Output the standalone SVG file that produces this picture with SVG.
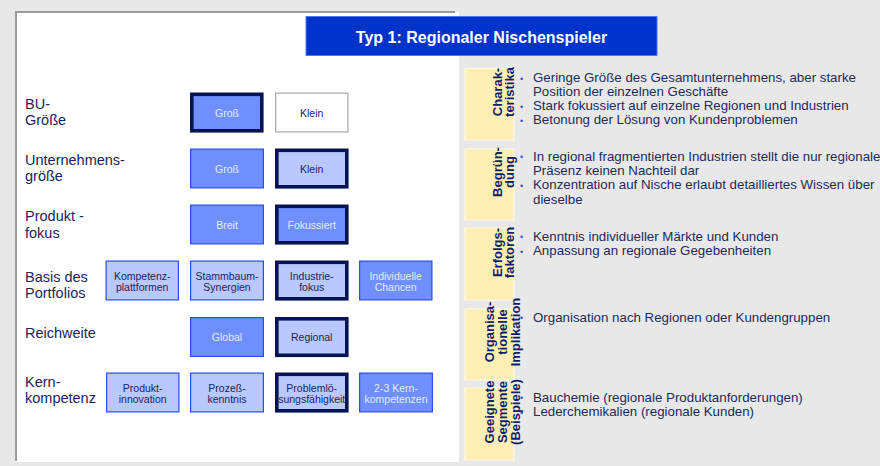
<svg xmlns="http://www.w3.org/2000/svg" width="880" height="466" viewBox="0 0 880 466">
<style>
text{font-family:"Liberation Sans",Arial,sans-serif}
.lbl{font-size:14.5px;fill:#1a2460}
.bt{font-size:10.5px;text-anchor:middle}
.dk{fill:#1a2460}
.lt{fill:#e4eaff}
.m{fill:#6e8ffd;stroke:#2450e8;stroke-width:1.2}
.l{fill:#b9c8fe;stroke:#2450e8;stroke-width:1.2}
.w{fill:#ffffff;stroke:#aaaaaa;stroke-width:1.2}
.tk{stroke:#061452;stroke-width:3.6}
.yb{fill:#fdeeb3;stroke:#fffbe6;stroke-width:1}
.rt{font-size:13px;font-weight:bold;fill:#0f1f66;text-anchor:middle}
.tx{font-size:13.3px;fill:#1c2a5e}
.bu{font-size:9px;fill:#3355cc}
</style>
<rect x="0" y="0" width="880" height="466" fill="#e8e8e8"/>
<g id="panel">
<rect x="15" y="12" width="444" height="450" fill="#ffffff"/>
<line x1="15" y1="12" x2="455" y2="12" stroke="#9a9a9a" stroke-width="2"/>
<line x1="16" y1="12" x2="16" y2="461" stroke="#9a9a9a" stroke-width="2"/>
</g>
<g id="title">
<rect x="306" y="16.5" width="351" height="39" fill="#0033cc" stroke="#4a78f5" stroke-width="1"/>
<text x="481.5" y="43.3" font-size="16" font-weight="bold" fill="#ffffff" text-anchor="middle">Typ 1: Regionaler Nischenspieler</text>
</g>
<g id="labels">
<text class="lbl" x="25" y="108.5">BU-<tspan x="25" y="124.5">Größe</tspan></text>
<text class="lbl" x="25" y="165">Unternehmens-<tspan x="25" y="181">größe</tspan></text>
<text class="lbl" x="25" y="221">Produkt -<tspan x="25" y="237.5">fokus</tspan></text>
<text class="lbl" x="25" y="281.5">Basis des<tspan x="25" y="298">Portfolios</tspan></text>
<text class="lbl" x="25" y="338">Reichweite</text>
<text class="lbl" x="25" y="387">Kern-<tspan x="25" y="403">kompetenz</tspan></text>
</g>
<g id="row1">
<g id="bu-gross"><rect class="m tk" x="191.8" y="94.3" width="70" height="36.5"/><text class="bt lt" x="227" y="116.5">Groß</text></g>
<g id="bu-klein"><rect class="w" x="275.6" y="93.1" width="72.3" height="38.8"/><text class="bt dk" x="311.7" y="116.5">Klein</text></g>
</g>
<g id="row2">
<g id="u-gross"><rect class="m" x="190.6" y="149.1" width="72.8" height="38.8"/><text class="bt lt" x="227" y="172.5">Groß</text></g>
<g id="u-klein"><rect class="l tk" x="276.8" y="150.3" width="70" height="36.5"/><text class="bt dk" x="311.7" y="172.5">Klein</text></g>
</g>
<g id="row3">
<g id="p-breit"><rect class="m" x="190.6" y="205.1" width="72.8" height="38.8"/><text class="bt lt" x="227" y="228.5">Breit</text></g>
<g id="p-fokussiert"><rect class="m tk" x="276.8" y="206.3" width="70" height="36.5"/><text class="bt lt" x="311.7" y="228.5">Fokussiert</text></g>
</g>
<g id="row4">
<g id="b-kompetenz"><rect class="l" x="106.1" y="261.1" width="72.3" height="38.8"/><text class="bt dk" x="142.2" y="280.2">Kompetenz-<tspan x="142.2" y="291">plattformen</tspan></text></g>
<g id="b-stammbaum"><rect class="l" x="190.6" y="261.1" width="72.8" height="38.8"/><text class="bt dk" x="227" y="280.2">Stammbaum-<tspan x="227" y="291">Synergien</tspan></text></g>
<g id="b-industrie"><rect class="l tk" x="276.8" y="262.3" width="70" height="36.5"/><text class="bt dk" x="311.7" y="280.2">Industrie-<tspan x="311.7" y="291">fokus</tspan></text></g>
<g id="b-individuell"><rect class="m" x="359.6" y="261.1" width="72.3" height="38.8"/><text class="bt lt" x="395.7" y="280.2">Individuelle<tspan x="395.7" y="291">Chancen</tspan></text></g>
</g>
<g id="row5">
<g id="r-global"><rect class="m" x="190.6" y="317.6" width="72.8" height="38.8"/><text class="bt lt" x="227" y="341.3">Global</text></g>
<g id="r-regional"><rect class="l tk" x="276.8" y="318.8" width="70" height="36.5"/><text class="bt dk" x="311.7" y="341.3">Regional</text></g>
</g>
<g id="row6">
<g id="k-produkt"><rect class="l" x="106.6" y="373.1" width="72.3" height="38.8"/><text class="bt dk" x="142.7" y="392.3">Produkt-<tspan x="142.7" y="403.1">innovation</tspan></text></g>
<g id="k-prozess"><rect class="l" x="190.6" y="373.1" width="72.8" height="38.8"/><text class="bt dk" x="227" y="392.3">Prozeß-<tspan x="227" y="403.1">kenntnis</tspan></text></g>
<g id="k-problem"><rect class="l tk" x="276.8" y="374.3" width="70" height="36.5"/><text class="bt dk" x="311.7" y="392.3">Problemlö-<tspan x="311.7" y="403.1">sungsfähigkeit</tspan></text></g>
<g id="k-kern"><rect class="m" x="359.6" y="373.1" width="72.8" height="38.8"/><text class="bt lt" x="396" y="392.3">2-3 Kern-<tspan x="396" y="403.1">kompetenzen</tspan></text></g>
</g>
<g id="charakteristika">
<rect class="yb" x="465" y="68.5" width="49" height="71.5"/>
<text class="rt" transform="translate(501.5,92) rotate(-90)">Charak-<tspan x="0" dy="12.7">teristika</tspan></text>
<text class="bu" x="520" y="81.5">•</text><text class="tx" x="533" y="82">Geringe Größe des Gesamtunternehmens, aber starke</text>
<text class="tx" x="533" y="96">Position der einzelnen Geschäfte</text>
<text class="bu" x="520" y="109.5">•</text><text class="tx" x="533" y="110">Stark fokussiert auf einzelne Regionen und Industrien</text>
<text class="bu" x="520" y="123.5">•</text><text class="tx" x="533" y="124">Betonung der Lösung von Kundenproblemen</text>
</g>
<g id="begruendung">
<rect class="yb" x="465" y="149" width="49" height="71"/>
<text class="rt" transform="translate(501.5,172) rotate(-90)">Begrün-<tspan x="0" dy="12.7">dung</tspan></text>
<text class="bu" x="520" y="160">•</text><text class="tx" x="533" y="160.5">In regional fragmentierten Industrien stellt die nur regionale</text>
<text class="tx" x="533" y="174.5">Präsenz keinen Nachteil dar</text>
<text class="bu" x="520" y="188.5">•</text><text class="tx" x="533" y="189">Konzentration auf Nische erlaubt detailliertes Wissen über</text>
<text class="tx" x="533" y="203.5">dieselbe</text>
</g>
<g id="erfolgsfaktoren">
<rect class="yb" x="465" y="228" width="49" height="72"/>
<text class="rt" transform="translate(501.5,252.5) rotate(-90)">Erfolgs-<tspan x="0" dy="12.7">faktoren</tspan></text>
<text class="bu" x="520" y="240">•</text><text class="tx" x="533" y="240.5">Kenntnis individueller Märkte und Kunden</text>
<text class="bu" x="520" y="254.5">•</text><text class="tx" x="533" y="255">Anpassung an regionale Gegebenheiten</text>
</g>
<g id="organisation">
<rect class="yb" x="465" y="309" width="49" height="71"/>
<text class="rt" transform="translate(494,332) rotate(-90)">Organisa-<tspan x="0" dy="13">tionelle</tspan><tspan x="0" dy="13">Implikation</tspan></text>
<text class="bu" x="520" y="321">•</text><text class="tx" x="533" y="321.5">Organisation nach Regionen oder Kundengruppen</text>
</g>
<g id="segmente">
<rect class="yb" x="465" y="388" width="49" height="72"/>
<text class="rt" transform="translate(494,412) rotate(-90)">Geeignete<tspan x="0" dy="13">Segmente</tspan><tspan x="0" dy="13">(Beispiele)</tspan></text>
<text class="bu" x="520" y="401">•</text><text class="tx" x="533" y="401.5">Bauchemie (regionale Produktanforderungen)</text>
<text class="bu" x="520" y="415.5">•</text><text class="tx" x="533" y="416">Lederchemikalien (regionale Kunden)</text>
</g>
<g id="connectors"/>
</svg>
